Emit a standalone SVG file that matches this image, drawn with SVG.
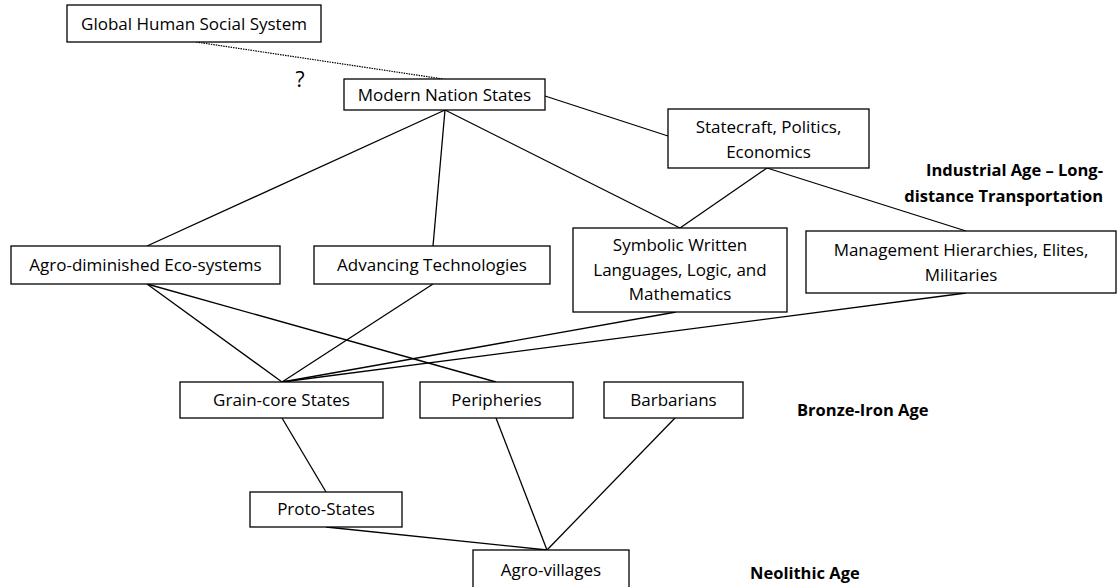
<svg xmlns="http://www.w3.org/2000/svg" width="1117" height="587" viewBox="0 0 1117 587">
  <style>
    .box { fill: #ffffff; stroke: #000000; stroke-width: 1.3; }
    .lbl { font-family: "Open Sans", "Liberation Sans", sans-serif; font-size: 17px; fill: #000000; text-anchor: middle; }
    .age { font-family: "Open Sans", "Liberation Sans", sans-serif; font-size: 16.5px; font-weight: bold; fill: #000000; }
    .link { stroke: #000000; stroke-width: 1.3; fill: none; }
    .dotted { stroke: #000000; stroke-width: 1.2; stroke-dasharray: 1.5 1; fill: none; }
  </style>
  <rect width="1117" height="587" fill="#ffffff"/>

  <!-- connectors -->
  <g id="connectors">
    <line class="dotted" x1="196" y1="42" x2="443" y2="79"/>
    <line class="link" x1="545" y1="96" x2="668" y2="136"/>
    <line class="link" x1="445" y1="110" x2="147" y2="246"/>
    <line class="link" x1="445" y1="110" x2="433" y2="246"/>
    <line class="link" x1="445" y1="110" x2="680" y2="228"/>
    <line class="link" x1="767" y1="168" x2="680" y2="228"/>
    <line class="link" x1="767" y1="168" x2="966" y2="231"/>
    <line class="link" x1="147" y1="284" x2="282" y2="382"/>
    <line class="link" x1="147" y1="284" x2="496" y2="382"/>
    <line class="link" x1="433" y1="284" x2="282" y2="382"/>
    <line class="link" x1="676" y1="312" x2="282" y2="382"/>
    <line class="link" x1="966" y1="293" x2="282" y2="382"/>
    <line class="link" x1="282" y1="418" x2="326" y2="492"/>
    <line class="link" x1="496" y1="418" x2="547" y2="550"/>
    <line class="link" x1="675" y1="418" x2="547" y2="550"/>
    <line class="link" x1="326" y1="527" x2="547" y2="550"/>
  </g>

  <g id="global-human-social-system">
    <rect class="box" x="67" y="5" width="254" height="37"/>
    <text class="lbl" x="194" y="30">Global Human Social System</text>
  </g>
  <text class="lbl" x="300" y="87" style="font-size:21px">?</text>

  <g id="modern-nation-states">
    <rect class="box" x="344" y="79" width="201" height="31"/>
    <text class="lbl" x="444.5" y="101">Modern Nation States</text>
  </g>

  <g id="statecraft">
    <rect class="box" x="668" y="109" width="201" height="59"/>
    <text class="lbl" x="768.5" y="133">Statecraft, Politics,</text>
    <text class="lbl" x="768.5" y="158">Economics</text>
  </g>

  <text class="age" x="1103" y="176" text-anchor="end">Industrial Age – Long-</text>
  <text class="age" x="1103" y="202" text-anchor="end">distance Transportation</text>

  <g id="agro-diminished-eco-systems">
    <rect class="box" x="11" y="246" width="269" height="38"/>
    <text class="lbl" x="145.5" y="271">Agro-diminished Eco-systems</text>
  </g>

  <g id="advancing-technologies">
    <rect class="box" x="314" y="246" width="236" height="38"/>
    <text class="lbl" x="432" y="271">Advancing Technologies</text>
  </g>

  <g id="symbolic-written-languages">
    <rect class="box" x="573" y="228" width="214" height="84"/>
    <text class="lbl" x="680" y="251">Symbolic Written</text>
    <text class="lbl" x="680" y="276">Languages, Logic, and</text>
    <text class="lbl" x="680" y="300">Mathematics</text>
  </g>

  <g id="management-hierarchies">
    <rect class="box" x="806" y="231" width="310" height="62"/>
    <text class="lbl" x="961" y="256">Management Hierarchies, Elites,</text>
    <text class="lbl" x="961" y="281">Militaries</text>
  </g>

  <g id="grain-core-states">
    <rect class="box" x="180" y="382" width="203" height="36"/>
    <text class="lbl" x="281.5" y="406">Grain-core States</text>
  </g>

  <g id="peripheries">
    <rect class="box" x="420" y="382" width="153" height="36"/>
    <text class="lbl" x="496.5" y="406">Peripheries</text>
  </g>

  <g id="barbarians">
    <rect class="box" x="604" y="382" width="139" height="36"/>
    <text class="lbl" x="673.5" y="406">Barbarians</text>
  </g>

  <text class="age" x="797" y="416">Bronze-Iron Age</text>

  <g id="proto-states">
    <rect class="box" x="250" y="492" width="152" height="35"/>
    <text class="lbl" x="326" y="515">Proto-States</text>
  </g>

  <g id="agro-villages">
    <rect class="box" x="473" y="550" width="156" height="40"/>
    <text class="lbl" x="551" y="576">Agro-villages</text>
  </g>

  <text class="age" x="750" y="579">Neolithic Age</text>
</svg>
